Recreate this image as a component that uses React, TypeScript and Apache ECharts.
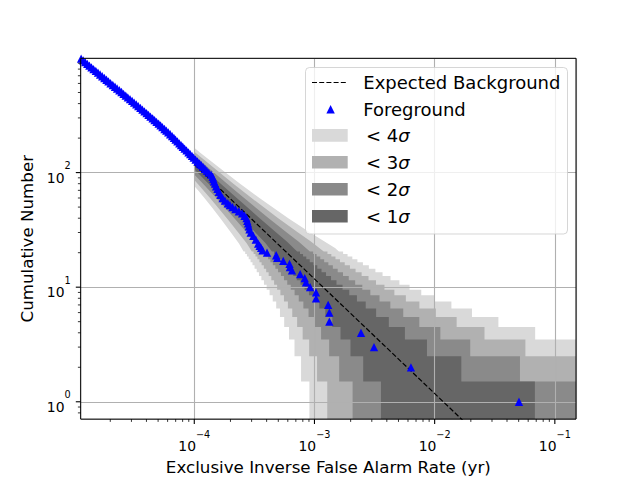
import React, { useEffect, useRef } from 'react';
import * as echarts from 'echarts';

const FONT = '"DejaVu Sans", sans-serif';

// ---- axis ranges and ticks ----
const X_RANGE = [1.135e-5, 0.15];
const Y_RANGE = [0.706, 994];
const xMajorTicks = [1e-4, 1e-3, 1e-2, 1e-1];
const xMinorTicks = [2e-5, 3e-5, 4e-5, 5e-5, 6e-5, 7e-5, 8e-5, 9e-5, 2e-4, 3e-4, 4e-4, 5e-4, 6e-4, 7e-4, 8e-4, 9e-4, 2e-3, 3e-3, 4e-3, 5e-3, 6e-3, 7e-3, 8e-3, 9e-3, 2e-2, 3e-2, 4e-2, 5e-2, 6e-2, 7e-2, 8e-2, 9e-2];
const yMajorTicks = [1, 10, 100];
const yMinorTicks = [0.8, 0.9, 2, 3, 4, 5, 6, 7, 8, 9, 20, 30, 40, 50, 60, 70, 80, 90, 200, 300, 400, 500, 600, 700, 800, 900];

// ---- expected background (dashed) ----
const expectedX = [1e-4, 0.15];
const expectedY = [118, 0.0787];

// ---- foreground events: exclusive IFAR (yr) and cumulative number ----
const fgX = [
  0.0503, 6.35e-3, 3.13e-3, 2.44e-3, 1.33e-3, 1.33e-3, 1.30e-3, 1.03e-3, 1.03e-3, 9.2e-4,
  8.5e-4, 8.3e-4, 7.6e-4, 6.5e-4, 6.25e-4, 6.2e-4, 5.5e-4, 4.9e-4, 4.8e-4, 4.03e-4,
  3.7e-4, 3.6e-4, 3.5e-4, 3.4e-4, 3.25e-4, 3.1e-4, 2.95e-4, 2.88e-4, 2.84e-4, 2.8e-4,
  2.76e-4, 2.72e-4, 2.62e-4, 2.5e-4, 2.35e-4, 2.2e-4, 2.08e-4, 1.98e-4, 1.9e-4, 1.8e-4,
  1.72e-4, 1.65e-4, 1.6e-4, 1.56e-4, 1.52e-4, 1.49e-4, 1.46e-4, 1.44e-4, 1.42e-4, 1.38e-4,
  1.32e-4, 1.27e-4, 1.224e-4, 1.182e-4, 1.143e-4, 1.107e-4, 1.064e-4, 1.025e-4, 9.88e-5, 9.57e-5,
  9.25e-5, 8.95e-5, 8.62e-5, 8.31e-5, 8.02e-5, 7.76e-5, 7.51e-5, 7.24e-5, 6.99e-5, 6.77e-5,
  6.54e-5, 6.3e-5, 6.07e-5, 5.85e-5, 5.65e-5, 5.43e-5, 5.24e-5, 5.05e-5, 4.85e-5, 4.67e-5,
  4.5e-5, 4.32e-5, 4.16e-5, 4.01e-5, 3.85e-5, 3.7e-5, 3.56e-5, 3.42e-5, 3.29e-5, 3.16e-5,
  3.04e-5, 2.92e-5, 2.8e-5, 2.69e-5, 2.58e-5, 2.48e-5, 2.38e-5, 2.28e-5, 2.19e-5, 2.1e-5,
  2.01e-5, 1.93e-5, 1.86e-5, 1.785e-5, 1.714e-5, 1.646e-5, 1.581e-5, 1.517e-5, 1.452e-5, 1.395e-5,
  1.34e-5, 1.288e-5, 1.238e-5, 1.19e-5, 1.144e-5, 1.1e-5,
];
const fgN = [
  1, 2, 3, 4, 5, 6, 7, 8, 9, 10,
  11, 12, 13, 14, 15, 16, 17, 18, 19, 20,
  21, 22, 23, 24, 26, 28, 30, 32, 34, 36,
  38, 40, 42, 44, 46, 48, 50, 52, 54, 57,
  60, 64, 68, 72, 76, 80, 84, 88, 92, 96,
  100, 104, 108, 112, 116, 120, 125, 130, 135, 140,
  145, 150, 156, 162, 168, 174, 180, 187, 194, 201,
  208, 216, 224, 232, 240, 249, 258, 267, 277, 287,
  297, 308, 319, 330, 342, 354, 367, 380, 394, 408,
  423, 438, 454, 470, 487, 505, 523, 542, 561, 581,
  602, 624, 646, 669, 693, 718, 744, 771, 799, 828,
  858, 889, 921, 954, 988, 1020,
];

// ---- background bands: smooth edge points [x, y] then steps [x, level after x] ----
const up1Smooth = [[1e-4, 129.3], [1.0365e-4, 125], [1.1856e-4, 110], [1.3109e-4, 100], [1.66e-4, 80], [2.257e-4, 60], [2.747e-4, 50], [3.501e-4, 40], [4.805e-4, 30], [5.889e-4, 25], [7.17e-4, 20.5]];
const up1Steps = [[7.579e-4, 19.5], [8.036e-4, 18.5], [8.55e-4, 17.5], [9.132e-4, 16.5], [9.796e-4, 15.5], [1.0559e-3, 14.5], [1.1448e-3, 13.5], [1.2475e-3, 12.5], [1.3738e-3, 11.5], [1.5248e-3, 10.5], [1.712e-3, 9.5], [1.948e-3, 8.5], [2.255e-3, 7.5], [2.67e-3, 6.5], [3.26e-3, 5.5], [4.155e-3, 4.5], [5.657e-3, 3.5], [8.632e-3, 2.5], [0.01667, 1.5], [0.0682, 0.5]];
const lo1Smooth = [[1e-4, 106.9], [1.0729e-4, 99], [1.327e-4, 79], [2.0687e-4, 49], [2.5489e-4, 39], [3.3296e-4, 29], [3.9382e-4, 24], [4.4276e-4, 20.5]];
const lo1Steps = [[4.618e-4, 19.5], [4.828e-4, 18.5], [5.06e-4, 17.5], [5.315e-4, 16.5], [5.598e-4, 15.5], [5.912e-4, 14.5], [6.267e-4, 13.5], [6.667e-4, 12.5], [7.126e-4, 11.5], [7.652e-4, 10.5], [8.269e-4, 9.5], [9.001e-4, 8.5], [9.874e-4, 7.5], [1.0956e-3, 6.5], [1.2312e-3, 5.5], [1.4078e-3, 4.5], [1.6474e-3, 3.5], [1.9939e-3, 2.5], [2.5442e-3, 1.5], [3.5758e-3, 0.5]];

const up2Smooth = [[1e-4, 140.7], [1.1907e-4, 120], [1.4566e-4, 100], [2.1739e-4, 70], [3.1996e-4, 50], [4.1593e-4, 40], [5.8794e-4, 30], [7.3566e-4, 25], [9.1615e-4, 20.5]];
const up2Steps = [[9.7521e-4, 19.5], [1.0415e-3, 18.5], [1.1174e-3, 17.5], [1.2041e-3, 16.5], [1.3053e-3, 15.5], [1.4217e-3, 14.5], [1.5608e-3, 13.5], [1.7277e-3, 12.5], [1.9294e-3, 11.5], [2.1811e-3, 10.5], [2.5005e-3, 9.5], [2.9165e-3, 8.5], [3.4798e-3, 7.5], [4.2785e-3, 6.5], [5.4807e-3, 5.5], [7.4542e-3, 4.5], [0.011153, 3.5], [0.019769, 2.5], [0.051282, 1.5]];
const lo2Smooth = [[1e-4, 96.3], [1.1935e-4, 79], [1.5431e-4, 59], [2.2007e-4, 39], [2.8149e-4, 29], [3.2805e-4, 24], [3.6483e-4, 20.5]];
const lo2Steps = [[3.7908e-4, 19.5], [3.9458e-4, 18.5], [4.1146e-4, 17.5], [4.2997e-4, 16.5], [4.5031e-4, 15.5], [4.7281e-4, 14.5], [4.9789e-4, 13.5], [5.2594e-4, 12.5], [5.576e-4, 11.5], [5.9365e-4, 10.5], [6.3509e-4, 9.5], [6.8327e-4, 8.5], [7.4028e-4, 7.5], [8.0877e-4, 6.5], [8.9259e-4, 5.5], [9.9831e-4, 4.5], [1.1357e-3, 3.5], [1.3256e-3, 2.5], [1.6059e-3, 1.5], [2.0764e-3, 0.5]];

const up3Smooth = [[1e-4, 152.6], [1.01812e-4, 150], [1.1988e-4, 130], [1.6247e-4, 100], [2.1151e-4, 80], [2.9964e-4, 60], [4.993e-4, 40], [7.3002e-4, 30], [9.3428e-4, 25], [1.19542e-3, 20.5]];
const up3Steps = [[1.2826e-3, 19.5], [1.3817e-3, 18.5], [1.4956e-3, 17.5], [1.6298e-3, 16.5], [1.7852e-3, 15.5], [1.9732e-3, 14.5], [2.1974e-3, 13.5], [2.4686e-3, 12.5], [2.8162e-3, 11.5], [3.2507e-3, 10.5], [3.8225e-3, 9.5], [4.622e-3, 8.5], [5.7589e-3, 7.5], [7.4636e-3, 6.5], [0.010234, 5.5], [0.01524, 4.5], [0.025985, 3.5], [0.056895, 2.5]];
const lo3Smooth = [[1e-4, 86.2], [1.0757e-4, 79], [1.3689e-4, 59], [1.9032e-4, 39], [2.3843e-4, 29], [2.7378e-4, 24], [3.0117e-4, 20.5]];
const lo3Steps = [[3.1159e-4, 19.5], [3.2293e-4, 18.5], [3.3523e-4, 17.5], [3.4849e-4, 16.5], [3.6308e-4, 15.5], [3.7906e-4, 14.5], [3.9651e-4, 13.5], [4.1579e-4, 12.5], [4.3736e-4, 11.5], [4.6166e-4, 10.5], [4.8902e-4, 9.5], [5.2074e-4, 8.5], [5.5766e-4, 7.5], [6.0112e-4, 6.5], [6.5338e-4, 5.5], [7.1733e-4, 4.5], [7.9784e-4, 3.5], [9.0352e-4, 2.5], [1.05076e-3, 1.5], [1.27789e-3, 0.5]];

const up4Smooth = [[1e-4, 164.4], [1.11447e-4, 150], [1.32198e-4, 130], [1.8196e-4, 100], [2.4057e-4, 80], [3.486e-4, 60], [6.0544e-4, 40], [9.1843e-4, 30], [1.21224e-3, 25], [1.48316e-3, 22], [1.59892e-3, 20.5]];
const up4Steps = [[1.73147e-3, 19.5], [1.88498e-3, 18.5], [2.06474e-3, 17.5], [2.27623e-3, 16.5], [2.52947e-3, 15.5], [2.83585e-3, 14.5], [3.21351e-3, 13.5], [3.68635e-3, 12.5], [4.29403e-3, 11.5], [5.09059e-3, 10.5], [6.18125e-3, 9.5], [7.7377e-3, 8.5], [0.01006, 7.5], [0.013785, 6.5], [0.020433, 5.5], [0.033908, 4.5], [0.068605, 3.5]];
const lo4Smooth = [[1e-4, 76.4], [1.0872e-4, 69], [1.2284e-4, 59], [1.4154e-4, 49], [1.6761e-4, 39], [2.0687e-4, 29], [2.3534e-4, 24], [2.5702e-4, 20.5]];
const lo4Steps = [[2.6523e-4, 19.5], [2.741e-4, 18.5], [2.8365e-4, 17.5], [2.9397e-4, 16.5], [3.0514e-4, 15.5], [3.1738e-4, 14.5], [3.3072e-4, 13.5], [3.4543e-4, 12.5], [3.6174e-4, 11.5], [3.7991e-4, 10.5], [4.0027e-4, 9.5], [4.2324e-4, 8.5], [4.497e-4, 7.5], [4.8046e-4, 6.5], [5.1641e-4, 5.5], [5.6004e-4, 4.5], [6.1375e-4, 3.5], [6.8208e-4, 2.5], [7.7377e-4, 1.5], [9.0769e-4, 0.5]];

const bandNames = ['< 4σ', '< 3σ', '< 2σ', '< 1σ'];
const bandColors = ['#d9d9d9', '#b1b1b1', '#8a8a8a', '#666666'];
const bandEdges = [
  [up4Smooth, up4Steps, lo4Smooth, lo4Steps],
  [up3Smooth, up3Steps, lo3Smooth, lo3Steps],
  [up2Smooth, up2Steps, lo2Smooth, lo2Steps],
  [up1Smooth, up1Steps, lo1Smooth, lo1Steps],
];

const X_END = 0.3;

function edgePoints(smooth: number[][], steps: number[][]) {
  const out = smooth.map((p) => [p[0], p[1]]);
  let y = out[out.length - 1][1];
  for (const [x, yAfter] of steps) {
    out.push([x, y]);
    out.push([x, yAfter]);
    y = yAfter;
  }
  out.push([X_END, y]);
  return out;
}

function isPow10(v: number) {
  const l = Math.log10(v);
  return Math.abs(l - Math.round(l)) < 1e-6;
}
function powLabel(v: number) {
  if (!isPow10(v)) return '';
  const e = Math.round(Math.log10(v));
  const es = e < 0 ? '\u2212' + String(-e) : String(e);
  return '{b|10}{s|' + es + '}';
}

const richLabel = {
  b: { fontSize: 13.9, fontFamily: FONT, color: '#000', lineHeight: 24, verticalAlign: 'bottom' },
  s: { fontSize: 9.7, fontFamily: FONT, color: '#000', lineHeight: 11, verticalAlign: 'top' },
};

function tickSeries(values: number[], axis: 'x' | 'y', len: number, width: number) {
  return {
    type: 'custom',
    coordinateSystem: 'cartesian2d',
    clip: false,
    silent: true,
    z: 7,
    data: values.map((v) => (axis === 'x' ? [v, Y_RANGE[0]] : [X_RANGE[0], v])),
    renderItem: (params: any, api: any) => {
      const p = api.coord([api.value(0), api.value(1)]);
      const shape = axis === 'x'
        ? { x1: p[0], y1: p[1], x2: p[0], y2: p[1] + len }
        : { x1: p[0], y1: p[1], x2: p[0] - len, y2: p[1] };
      return { type: 'line', shape, style: { stroke: '#000', lineWidth: width } };
    },
  };
}

function buildOption() {
  const bandSeries = bandEdges.map((edges, i) => ({
    type: 'custom',
    name: bandNames[i],
    coordinateSystem: 'cartesian2d',
    clip: true,
    silent: true,
    z: 1,
    data: [edges[0][0]],
    renderItem: (params: any, api: any) => {
      const upper = edgePoints(edges[0], edges[1]);
      const lower = edgePoints(edges[2], edges[3]).reverse();
      const pts = upper.concat(lower).map((p) => api.coord(p));
      return { type: 'polygon', shape: { points: pts }, style: { fill: bandColors[i] } };
    },
  }));

  const legendRows = [82.5, 109.3, 135.5, 162.3, 189.3, 216.3];
  const legendEls: any[] = [
    { type: 'rect', z: 50, shape: { x: 305.5, y: 67.5, width: 262, height: 166.5, r: 4 }, style: { fill: 'rgba(255,255,255,0.8)', stroke: 'rgba(204,204,204,0.8)', lineWidth: 1 } },
    { type: 'line', z: 51, shape: { x1: 312, y1: legendRows[0], x2: 347.7, y2: legendRows[0] }, style: { stroke: '#000', lineWidth: 1.2, lineDash: [5, 2.2] } },
    { type: 'polygon', z: 51, shape: { points: [[330.6, 105], [326.4, 113.4], [334.8, 113.4]] }, style: { fill: '#0000ff' } },
    { type: 'text', z: 51, x: 363.3, y: legendRows[0], style: { text: 'Expected Background', fontSize: 18, fontFamily: FONT, fill: '#000', verticalAlign: 'middle' } },
    { type: 'text', z: 51, x: 363.3, y: legendRows[1], style: { text: 'Foreground', fontSize: 18, fontFamily: FONT, fill: '#000', verticalAlign: 'middle' } },
  ];
  bandNames.forEach((name, i) => {
    const yc = legendRows[2 + i];
    legendEls.push({ type: 'rect', z: 51, shape: { x: 312, y: yc - 6.4, width: 35.7, height: 12.7 }, style: { fill: bandColors[i] } });
    const num = name.replace('σ', '');
    legendEls.push({
      type: 'text', z: 51, x: 366, y: yc,
      style: {
        text: num + '{i|σ}', fontSize: 18, fontFamily: FONT, fill: '#000', verticalAlign: 'middle',
        rich: { i: { fontSize: 18, fontFamily: FONT, fontStyle: 'italic', fill: '#000' } },
      },
    });
  });

  return {
    animation: false,
    backgroundColor: '#ffffff',
    textStyle: { fontFamily: FONT },
    grid: { left: 80.7, top: 58.3, width: 495.3, height: 368.4, show: true, borderColor: '#000', borderWidth: 1, z: 6, containLabel: false },
    xAxis: {
      type: 'log', logBase: 10, min: X_RANGE[0], max: X_RANGE[1], z: 2,
      name: 'Exclusive Inverse False Alarm Rate (yr)', nameLocation: 'middle', nameGap: 34,
      nameTextStyle: { fontSize: 16.7, fontFamily: FONT, color: '#000' },
      axisLine: { show: false }, axisTick: { show: false },
      splitLine: { show: true, lineStyle: { color: '#b0b0b0', width: 1.1 } },
      minorTick: { show: false }, minorSplitLine: { show: false },
      axisLabel: { margin: 10, formatter: powLabel, rich: richLabel },
    },
    yAxis: {
      type: 'log', logBase: 10, min: Y_RANGE[0], max: Y_RANGE[1], z: 2,
      name: 'Cumulative Number', nameLocation: 'middle', nameGap: 42,
      nameTextStyle: { fontSize: 16.7, fontFamily: FONT, color: '#000' },
      axisLine: { show: false }, axisTick: { show: false },
      splitLine: { show: true, lineStyle: { color: '#b0b0b0', width: 1.1 } },
      axisLabel: { margin: 10, formatter: powLabel, rich: richLabel },
    },
    graphic: { elements: legendEls },
    series: [
      ...bandSeries,
      {
        type: 'line', name: 'Expected Background', z: 3, symbol: 'none', silent: true,
        data: expectedX.map((x, i) => [x, expectedY[i]]),
        lineStyle: { color: '#000', width: 1.2, type: [5, 2.2] },
      },
      {
        type: 'scatter', name: 'Foreground', z: 4, symbol: 'triangle', symbolSize: 8.3, silent: true,
        data: fgX.map((x, i) => [x, fgN[i]]),
        itemStyle: { color: '#0000ff', opacity: 1 },
      },
      tickSeries(xMajorTicks, 'x', 4.9, 1.1),
      tickSeries(xMinorTicks, 'x', 2.8, 0.8),
      tickSeries(yMajorTicks, 'y', 4.9, 1.1),
      tickSeries(yMinorTicks, 'y', 2.8, 0.8),
    ],
  };
}

export default function App() {
  const ref = useRef<HTMLDivElement>(null);
  useEffect(() => {
    const chart = echarts.init(ref.current as HTMLDivElement, null, { renderer: 'svg' });
    chart.setOption(buildOption() as any);
    return () => chart.dispose();
  }, []);
  return <div ref={ref} style={{ position: 'fixed', left: 0, top: 0, width: 640, height: 480 }} />;
}
